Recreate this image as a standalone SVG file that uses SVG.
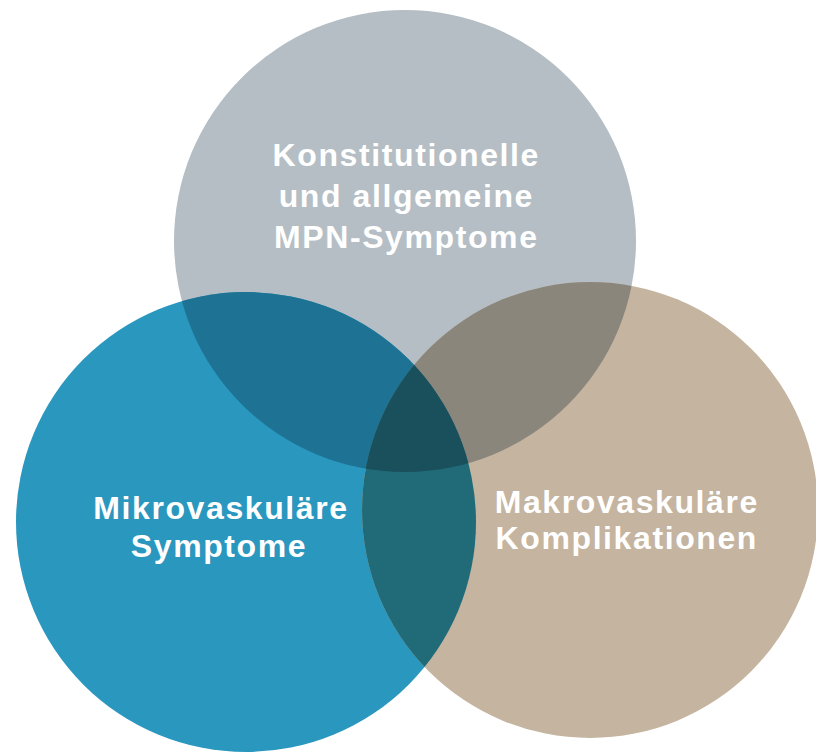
<svg xmlns="http://www.w3.org/2000/svg" width="816" height="754" viewBox="0 0 816 754">
  <style>
    .label { font-family: "Liberation Sans", Arial, Helvetica, sans-serif; font-weight: bold; font-size: 32px; letter-spacing: 1.6px; fill: #ffffff; text-anchor: middle; }
    .top { fill: #b4bec4; }
    .left { fill: #2a97bf; }
    .right { fill: #c4b4a0; }
    .top-left { fill: #1e7293; }
    .top-right { fill: #8b867c; }
    .left-right { fill: #216b79; }
    .all { fill: #1a4f5c; }
  </style>
  <defs>
    <clipPath id="clip-top"><circle cx="405" cy="241" r="231"/></clipPath>
    <clipPath id="clip-left"><circle cx="246" cy="522" r="230"/></clipPath>
    <clipPath id="clip-right"><circle cx="590" cy="510" r="228"/></clipPath>
  </defs>

  <rect width="816" height="754" fill="#ffffff"/>

  <!-- three sets -->
  <g id="node-constitutional">
    <circle class="top" cx="405" cy="241" r="231"/>
    <text class="label" x="406.3" y="166">Konstitutionelle</text>
    <text class="label" x="406.3" y="207">und allgemeine</text>
    <text class="label" x="406.3" y="248">MPN-Symptome</text>
  </g>
  <g id="node-microvascular">
    <circle class="left" cx="246" cy="522" r="230"/>
    <text class="label" x="221" y="519">Mikrovaskuläre</text>
    <text class="label" x="219" y="557">Symptome</text>
  </g>
  <g id="node-macrovascular">
    <circle class="right" cx="590" cy="510" r="228"/>
    <text class="label" x="626.8" y="513">Makrovaskuläre</text>
    <text class="label" x="626.8" y="549">Komplikationen</text>
  </g>

  <!-- overlap regions -->
  <g id="overlaps">
    <circle class="top-left" cx="246" cy="522" r="230" clip-path="url(#clip-top)"/>
    <circle class="top-right" cx="590" cy="510" r="228" clip-path="url(#clip-top)"/>
    <circle class="left-right" cx="590" cy="510" r="228" clip-path="url(#clip-left)"/>
    <g clip-path="url(#clip-top)">
      <circle class="all" cx="590" cy="510" r="228" clip-path="url(#clip-left)"/>
    </g>
  </g>
</svg>
